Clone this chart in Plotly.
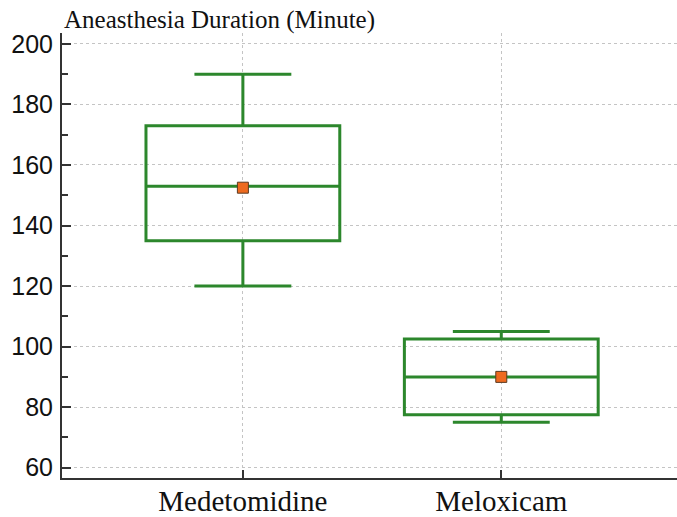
import plotly.graph_objects as go

categories = ["Medetomidine", "Meloxicam"]
q1 = [135, 77.5]
median = [153, 90]
q3 = [173, 102.5]
lower = [120, 75]
upper = [190, 105]
mean = [152.5, 90]
title_text = "Aneasthesia Duration (Minute)"

green = "#2c872c"

fig = go.Figure()
fig.add_trace(go.Box(
    x=categories, q1=q1, median=median, q3=q3,
    lowerfence=lower, upperfence=upper,
    fillcolor="rgba(255,255,255,0)",
    line=dict(color=green, width=3),
    width=0.75,
    whiskerwidth=0.5, boxpoints=False, showlegend=False, hoverinfo="skip",
))
fig.add_trace(go.Scatter(
    x=categories, y=mean, mode="markers",
    marker=dict(symbol="square", size=11, color="#ee6a1f",
                line=dict(color="#5a3a20", width=1)),
    showlegend=False,
))

fig.update_layout(
    width=677, height=517,
    margin=dict(l=62, r=0, t=33, b=39),
    paper_bgcolor="white", plot_bgcolor="white",
    annotations=[dict(text=title_text, xref="paper", yref="paper",
                      x=0.0, y=1.0, xanchor="left", yanchor="bottom",
                      xshift=0, yshift=-3, showarrow=False,
                      font=dict(family="Liberation Serif", size=25, color="#111"))],
)
fig.update_xaxes(
    range=[-0.70, 1.68], showgrid=True, gridcolor="#c4c4c4", griddash="dot", gridwidth=1,
    showline=True, linecolor="#333", linewidth=2,
    ticks="inside", ticklen=8, tickwidth=2, tickcolor="#333",
    tickfont=dict(family="Liberation Serif", size=29, color="#111"),
    ticklabelstandoff=-4,
    zeroline=False, fixedrange=True, automargin=False,
)
fig.update_yaxes(
    range=[56.6, 203.6], tickvals=[60, 80, 100, 120, 140, 160, 180, 200],
    showgrid=True, gridcolor="#c4c4c4", griddash="dot", gridwidth=1,
    showline=True, linecolor="#333", linewidth=2,
    ticks="inside", ticklen=9, tickwidth=2, tickcolor="#333",
    minor=dict(tickvals=[70, 90, 110, 130, 150, 170, 190], ticks="inside",
               ticklen=6, tickwidth=1.5, tickcolor="#333", showgrid=False),
    tickfont=dict(family="Liberation Sans", size=25, color="#111"),
    ticklabelstandoff=2,
    zeroline=False, automargin=False,
)

fig.write_html("out.html")
